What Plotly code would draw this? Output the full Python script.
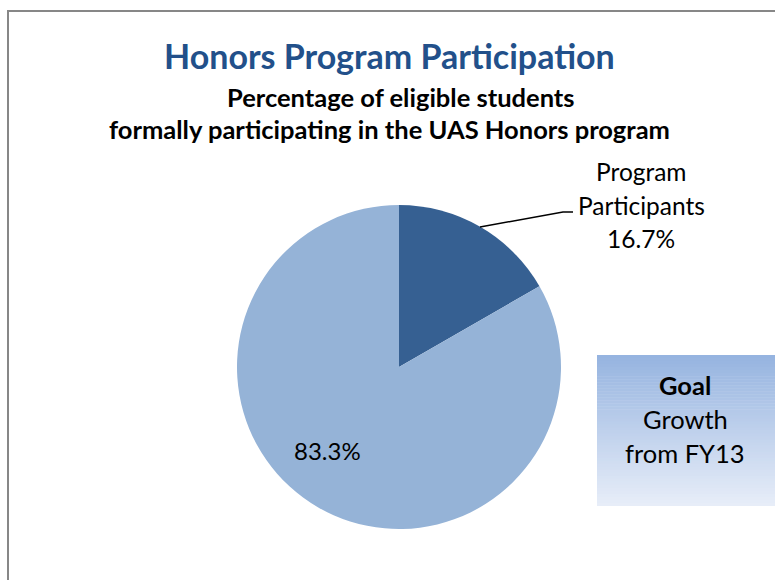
import plotly.graph_objects as go

# Data
labels = ["Program Participants", "Other Eligible Students"]
values = [16.7, 83.3]
colors = ["#366092", "#95B3D7"]

title_text = "Honors Program Participation"
subtitle_lines = ["Percentage of eligible students",
                  "formally participating in the UAS Honors program"]
goal_lines = ["<b>Goal</b>", "Growth", "from FY13"]

W, H = 775, 580
FONT = "Lato"


def fx(x):
    return x / W


def fy(y):
    return 1 - y / H


fig = go.Figure(
    go.Pie(
        labels=labels,
        values=values,
        sort=False,
        direction="clockwise",
        rotation=0,
        marker=dict(colors=colors, line=dict(width=0)),
        textinfo="none",
        hoverinfo="label+percent",
        domain=dict(x=[fx(237), fx(561)], y=[fy(529), fy(205)]),
        showlegend=False,
    )
)

ann = []
# title and subtitle
ann.append(dict(x=fx(389), y=fy(55), text=f"<b>{title_text}</b>",
                font=dict(family=FONT, size=34, color="#22508A")))
sub_x = [401, 389]
for i, line in enumerate(subtitle_lines):
    ann.append(dict(x=fx(sub_x[i]), y=fy(97 + 32 * i), text=f"<b>{line}</b>",
                    font=dict(family=FONT, size=25.5, color="black")))

# slice labels
part_lines = labels[0].split() + [f"{values[0]:.1f}%"]
for i, line in enumerate(part_lines):
    ann.append(dict(x=fx(641), y=fy(172 + 33 * i), text=line,
                    font=dict(family=FONT, size=24.5, color="black")))
ann.append(dict(x=fx(327), y=fy(450), text=f"{values[1]:.1f}%",
                font=dict(family=FONT, size=24, color="black")))

# goal box text
for i, line in enumerate(goal_lines):
    ann.append(dict(x=fx(685), y=fy(385 + 34 * i), text=line,
                    font=dict(family=FONT, size=25.5, color="black")))

for a in ann:
    a.update(xref="paper", yref="paper", showarrow=False,
             xanchor="center", yanchor="middle")

shapes = []
# gradient goal box built from thin strips
top_c = (150, 180, 224)
bot_c = (231, 237, 248)
y0, y1 = 355, 506
n = 50
for i in range(n):
    t = i / (n - 1)
    c = tuple(round(top_c[k] + (bot_c[k] - top_c[k]) * t) for k in range(3))
    ya = y0 + (y1 - y0) * i / n
    yb = y0 + (y1 - y0) * (i + 1) / n + 0.5
    shapes.append(dict(type="rect", xref="paper", yref="paper",
                       x0=fx(597), x1=fx(W + 2), y0=fy(ya), y1=fy(min(yb, y1)),
                       fillcolor=f"rgb{c}", line=dict(width=0), layer="below"))

# leader line
shapes.append(dict(type="path", xref="paper", yref="paper",
                   path=f"M {fx(480)},{fy(227)} L {fx(563)},{fy(212)} L {fx(573)},{fy(212)}",
                   line=dict(color="black", width=1.5)))

# outer chart border
shapes.append(dict(type="rect", xref="paper", yref="paper",
                   x0=fx(8), x1=fx(W + 10), y0=fy(11), y1=fy(H + 10),
                   line=dict(color="#878787", width=2), fillcolor="rgba(0,0,0,0)"))

fig.update_layout(
    width=W, height=H,
    autosize=False,
    margin=dict(l=0, r=0, t=0, b=0),
    paper_bgcolor="white",
    plot_bgcolor="white",
    annotations=ann,
    shapes=shapes,
    font=dict(family=FONT),
)

fig.write_html("out.html", config={"displayModeBar": False},
               post_script="document.body.style.margin='0';document.body.style.overflow='hidden';")
